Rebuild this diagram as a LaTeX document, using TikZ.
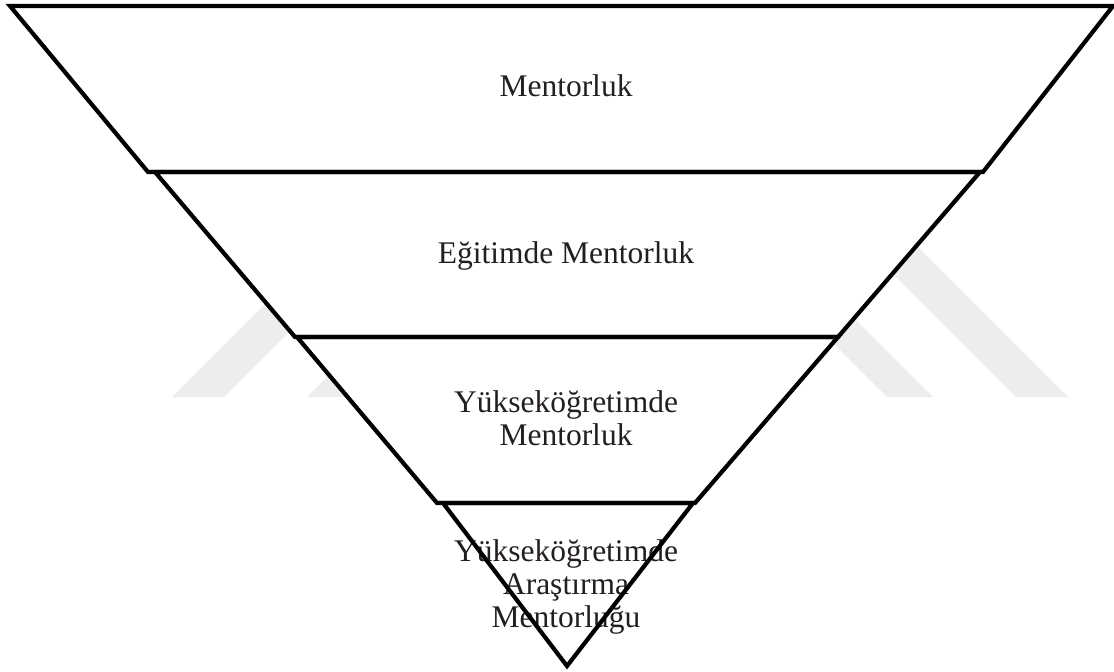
\documentclass[tikz,border=0pt]{standalone}
\usepackage{fontspec}
\setmainfont{Liberation Serif}
\definecolor{inkgray}{RGB}{35,31,32}
\definecolor{wmgray}{RGB}{237,237,237}
\begin{document}
\begin{tikzpicture}[x=1bp,y=-1bp,
  level/.style={line width=4.2bp, draw=black, line join=miter},
  levelfill/.style={fill=white},
  levellabel/.style={font=\fontsize{31.5bp}{33bp}\selectfont, text=inkgray,
    align=center, inner sep=0pt, anchor=base},
  chevron/.style={fill=wmgray}]
\useasboundingbox (0,0) rectangle (1114,672);
\fill[white] (0,0) rectangle (1114,672);

% faint double chevron in the background
\begin{scope}
\clip (0,20) rectangle (1114,672);
\fill[chevron] (172,397) -- (620,-51) -- (1068,397) -- (1016,397) -- (620,1) -- (224,397) -- cycle;
\fill[chevron] (307,397) -- (620,84) -- (933,397) -- (887,397) -- (620,130) -- (353,397) -- cycle;
\end{scope}

% the four levels of the funnel
\coordinate (a1) at (10,6);   \coordinate (a2) at (1113,6);
\coordinate (a3) at (983,172); \coordinate (a4) at (148,172);
\coordinate (b1) at (155,172); \coordinate (b2) at (980,172);
\coordinate (b3) at (838,337); \coordinate (b4) at (295,337);
\coordinate (c1) at (297,337); \coordinate (c2) at (838,337);
\coordinate (c3) at (695,503); \coordinate (c4) at (437,503);
\coordinate (d1) at (443,503); \coordinate (d2) at (693,503);
\coordinate (d3) at (567,666);

\fill[levelfill] (a1) -- (a2) -- (a3) -- (a4) -- cycle;
\fill[levelfill] (b1) -- (b2) -- (b3) -- (b4) -- cycle;
\fill[levelfill] (c1) -- (c2) -- (c3) -- (c4) -- cycle;
\fill[levelfill] (d1) -- (d2) -- (d3) -- cycle;

\node[levellabel] (t1) at (566,97) {Mentorluk};
\node[levellabel] (t2) at (566,263) {Eğitimde Mentorluk};
\node[levellabel] (t3) at (566,445) {Yükseköğretimde\\Mentorluk};
\node[levellabel] (t4) at (566,627) {Yükseköğretimde\\Araştırma\\Mentorluğu};

\draw[level] (a1) -- (a2) -- (a3) -- (a4) -- cycle;
\draw[level] (b1) -- (b2) -- (b3) -- (b4) -- cycle;
\draw[level] (c1) -- (c2) -- (c3) -- (c4) -- cycle;
\draw[level] (d1) -- (d2) -- (d3) -- cycle;
\end{tikzpicture}
\end{document}
